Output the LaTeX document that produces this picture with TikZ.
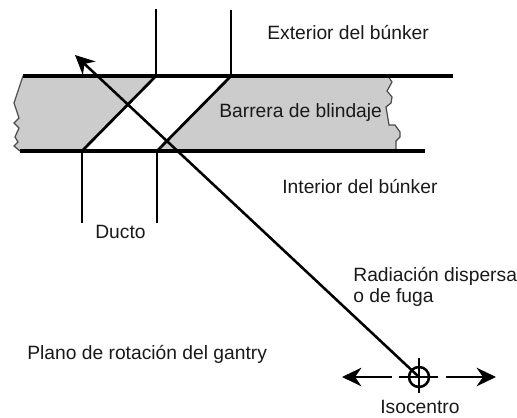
\documentclass[tikz,border=0pt]{standalone}
\usepackage{fontspec}
\setmainfont{Liberation Sans}
\usetikzlibrary{arrows.meta,positioning}

\tikzset{
	wall/.style={black,line width=2pt},
	duct/.style={black,line width=1.55pt},
	ray/.style={black,line width=1.45pt,-{Stealth[length=11pt,width=10.5pt]}},
	label/.style={inner sep=0pt,anchor=west,font=\fontsize{10.95pt}{12pt}\selectfont,text=black!90},
}

\begin{document}
\begin{tikzpicture}
	\useasboundingbox (0,0) rectangle (10.34,8.34);

	% \draw barrier
	\fill[black!20] (.46,6.82) -- (.28,6.28) -- (.38,5.98) -- (.28,5.88) -- (.38,5.78) -- (.3,5.6) -- (.36,5.5) -- (.28,5.42) -- (.4,5.32)
		-- (7.92,5.32) -- (7.92,5.52) -- (8,5.6) -- (8,5.7) -- (7.9,5.84) -- (7.78,5.84) -- (7.72,6.2) -- (7.82,6.28) -- (7.84,6.4) -- (7.74,6.52) -- (7.84,6.7) -- (7.76,6.82) -- cycle;
	\draw[black!70,line width=.7pt] (.46,6.82) -- (.28,6.28) -- (.38,5.98) -- (.28,5.88) -- (.38,5.78) -- (.3,5.6) -- (.36,5.5) -- (.28,5.42) -- (.4,5.32);
	\draw[black!70,line width=.7pt] (7.92,5.32) -- (7.92,5.52) -- (8,5.6) -- (8,5.7) -- (7.9,5.84) -- (7.78,5.84) -- (7.72,6.2) -- (7.82,6.28) -- (7.84,6.4) -- (7.74,6.52) -- (7.84,6.7) -- (7.76,6.82);

	\coordinate (TL) at (3.12,6.82);
	\coordinate (TR) at (4.62,6.82);
	\coordinate (BL) at (1.64,5.32);
	\coordinate (BR) at (3.14,5.32);

	% \draw duct opening
	\fill[white] (TL) -- (TR) -- (BR) -- (BL) -- cycle;
	\draw[duct] (TL) -- (BL);
	\draw[duct] (TR) -- (BR);
	\draw[duct] (TL) -- (3.12,8.16);
	\draw[duct] (TR) -- (4.62,8.14);
	\draw[duct] (BL) -- (1.64,3.88);
	\draw[duct] (BR) -- (3.14,3.88);

	% \draw wall faces
	\draw[wall] (.46,6.82) -- (9.06,6.82);
	\draw[wall] (.4,5.32) -- (8.5,5.32);

	\coordinate (ISO) at (8.38,.8);
	\coordinate (TIP) at (1.5,7.24);

	% \draw scattered ray
	\draw[ray] (ISO) -- (TIP);

	% \draw isocentre
	\node[circle,draw=black,line width=1.45pt,minimum size=.4cm,inner sep=0pt] (iso) at (ISO) {};
	\draw[duct] (7.98,.8) -- (8.76,.8);
	\draw[duct] (8.38,1.18) -- (8.38,.48);
	\draw[ray] (7.84,.8) -- (6.84,.8);
	\draw[ray] (8.92,.8) -- (9.92,.8);

	% labels
	\node[label] (exterior) at (5.34,7.68) {Exterior del búnker};
	\node[label] (barrera) at (4.38,6.08) {Barrera de blindaje};
	\node[label] (interior) at (5.64,4.6) {Interior del búnker};
	\node[label] (ducto) at (1.9,3.7) {Ducto};
	\node[label] (radiacion) at (7.06,2.82) {Radiación dispersa};
	\node[label] (fuga) at (7.06,2.38) {o de fuga};
	\node[label] (plano) at (.54,1.26) {Plano de rotación del gantry};
	\node[label] (isocentro) at (7.6,.2) {Isocentro};
\end{tikzpicture}
\end{document}
